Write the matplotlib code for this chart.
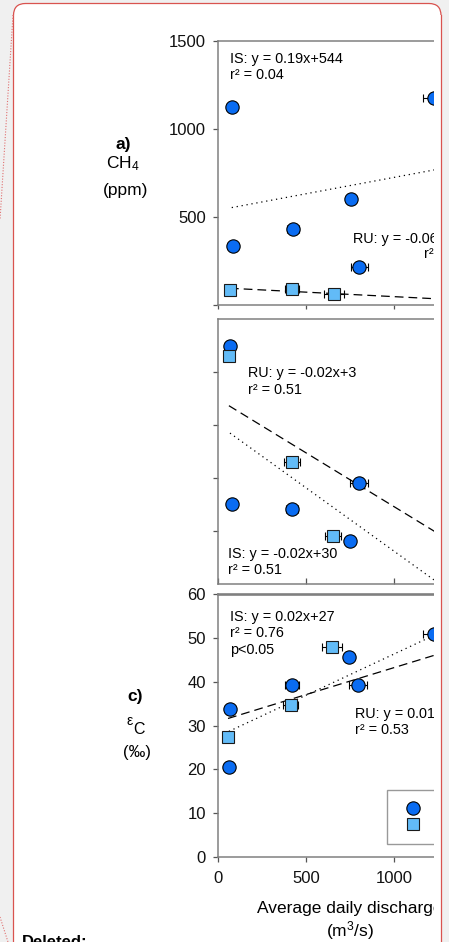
import numpy as np
import matplotlib
matplotlib.use("Agg")
import matplotlib.pyplot as plt
from matplotlib.patches import FancyBboxPatch, Rectangle
from matplotlib.lines import Line2D

plt.rcParams['font.family'] = ['Liberation Sans', 'DejaVu Sans']
plt.rcParams['mathtext.fontset'] = 'custom'
plt.rcParams['mathtext.rm'] = 'Liberation Sans'
plt.rcParams['mathtext.it'] = 'Liberation Sans:italic'

# ---------------- data ----------------
# panel a: CH4 (ppm)
a_is_x = [78, 83, 428, 754, 803, 1225]
a_is_y = [1123, 335, 432, 600, 214, 1174]
a_is_xerr = [0, 0, 35, 0, 50, 60]
a_ru_x = [68, 422, 659]
a_ru_y = [83, 89, 64]
a_ru_xerr = [0, 40, 57]
a_is_fit = [0.186, 539]
a_ru_fit = [-0.051, 98.5]

# panel b
b_is_x = [68, 80, 422, 752, 803]
b_is_y = [45.0, 15.1, 14.1, 8.1, 19.1]
b_is_xerr = [0, 0, 35, 0, 52]
b_ru_x = [62, 419, 652]
b_ru_y = [43.0, 23.0, 9.1]
b_ru_xerr = [0, 45, 45]
b_is_fit = [-0.0239, 30.1]
b_ru_fit = [-0.0203, 34.9]

# panel c: epsilon C (permil)
c_is_x = [68, 62, 419, 746, 797, 1225]
c_is_y = [33.7, 20.5, 39.3, 45.7, 39.2, 50.8]
c_is_xerr = [0, 0, 40, 0, 50, 60]
c_ru_x = [57, 413, 648]
c_ru_y = [27.4, 34.7, 48.0]
c_ru_xerr = [0, 43, 58]
c_is_fit = [0.0188, 27.5]
c_ru_fit = [0.0123, 30.9]

x_ticks = [0, 500, 1000, 1500]
a_yticks = [0, 500, 1000, 1500]
a_yticklabels = ['', '500', '1000', '1500']
b_yticks = [10, 20, 30, 40]
c_yticks = [0, 10, 20, 30, 40, 50, 60]

IS_COLOR = '#0a6cf2'
RU_COLOR = '#62bbf7'
SPINE = '#808080'
W, H = 449, 942

fig = plt.figure(figsize=(W / 100, H / 100), dpi=100)
fig.patch.set_facecolor('#f0f0f0')
inch = fig.dpi_scale_trans

def px2in(x, y):
    return x / 100, (H - y) / 100

# background page with red rounded border
bx, by = px2in(13.5, 1000)
bg = FancyBboxPatch((bx, by), (441 - 13.5) / 100, (1000 - 3.5) / 100,
                    boxstyle='round,pad=0,rounding_size=0.12',
                    transform=inch, facecolor='white', edgecolor='#d9534f',
                    linewidth=0.9, zorder=-10)
fig.add_artist(bg)
# comment connector dotted lines
for (x0, y0, x1, y1) in [(13, 15, 0, 220), (0, 917, 8, 942)]:
    p0 = px2in(x0, y0); p1 = px2in(x1, y1)
    fig.add_artist(Line2D([p0[0], p1[0]], [p0[1], p1[1]], transform=inch,
                          color='#e07070', lw=0.8, linestyle=(0, (1, 1.5)), zorder=-5))


def fx(px):
    return px / W

def fy(py):
    return 1 - py / H

ax_a = fig.add_axes([fx(218), fy(305), 264 / W, 264 / H])
ax_b = fig.add_axes([fx(218), fy(584), 264 / W, 265 / H])
ax_c = fig.add_axes([fx(218), fy(857), 264 / W, 263 / H])

def draw_panel(ax, isx, isy, isxe, rux, ruy, ruxe, isfit, rufit):
    ax.set_facecolor('none')
    isx = np.array(isx, float); isy = np.array(isy, float); isxe = np.array(isxe, float)
    rux = np.array(rux, float); ruy = np.array(ruy, float); ruxe = np.array(ruxe, float)
    xs = np.array([isx.min(), 1300])
    ax.plot(xs, isfit[0] * xs + isfit[1], color='black', lw=0.9,
            linestyle=(0, (1, 3)), zorder=1)
    xr = np.array([rux.min(), 1300])
    ax.plot(xr, rufit[0] * xr + rufit[1], color='black', lw=0.9,
            linestyle=(0, (7, 4)), zorder=1)
    m = isxe > 0
    ax.errorbar(isx[m], isy[m], xerr=isxe[m], fmt='none', ecolor='black',
                elinewidth=0.8, capsize=3, capthick=0.8, zorder=2)
    m = ruxe > 0
    ax.errorbar(rux[m], ruy[m], xerr=ruxe[m], fmt='none', ecolor='black',
                elinewidth=0.8, capsize=3, capthick=0.8, zorder=2)
    ax.plot(isx, isy, linestyle='none', marker='o', markersize=9.6,
            markerfacecolor=IS_COLOR, markeredgecolor='black', markeredgewidth=0.8, zorder=3)
    ax.plot(rux, ruy, linestyle='none', marker='s', markersize=8.4,
            markerfacecolor=RU_COLOR, markeredgecolor='#1a1a1a', markeredgewidth=0.8, zorder=3)
    ax.set_xlim(0, 1500)
    ax.spines['right'].set_visible(False)
    for s in ['left', 'top', 'bottom']:
        ax.spines[s].set_color(SPINE)
        ax.spines[s].set_linewidth(1.1)
    ax.tick_params(axis='both', colors='#555555', labelcolor='#111111',
                   labelsize=12, width=0.9)
    ax.set_xticks(x_ticks)

draw_panel(ax_a, a_is_x, a_is_y, a_is_xerr, a_ru_x, a_ru_y, a_ru_xerr, a_is_fit, a_ru_fit)
draw_panel(ax_b, b_is_x, b_is_y, b_is_xerr, b_ru_x, b_ru_y, b_ru_xerr, b_is_fit, b_ru_fit)
draw_panel(ax_c, c_is_x, c_is_y, c_is_xerr, c_ru_x, c_ru_y, c_ru_xerr, c_is_fit, c_ru_fit)

# panel a axes
ax_a.set_ylim(0, 1500)
ax_a.set_yticks(a_yticks)
ax_a.set_yticklabels(a_yticklabels)
ax_a.tick_params(axis='y', direction='out', length=3.6, pad=5)
ax_a.tick_params(axis='x', direction='out', length=3, labelbottom=False)

# panel b axes
ax_b.set_ylim(0, 50)
ax_b.set_yticks(b_yticks)
ax_b.tick_params(axis='y', direction='out', length=3.6, labelleft=False)
ax_b.tick_params(axis='x', direction='in', length=4, labelbottom=False)

# panel c axes
ax_c.set_ylim(0, 60)
ax_c.set_yticks(c_yticks)
ax_c.spines['top'].set_linewidth(1.9)
ax_c.tick_params(axis='y', direction='out', length=3.6, pad=5)
ax_c.tick_params(axis='x', direction='out', length=3.6, pad=6.8)

# annotations
TS = 10.4
ax_a.text(68, 1398, 'IS: y = 0.19x+544', fontsize=TS, va='center', ha='left')
ax_a.text(68, 1307, 'r² = 0.04', fontsize=TS, va='center', ha='left')
ax_a.text(767, 375, 'RU: y = -0.06x+98', fontsize=TS, va='center', ha='left')
ax_a.text(1170, 290, 'r² = 0.78', fontsize=TS, va='center', ha='left')

ax_b.text(169, 39.8, 'RU: y = -0.02x+3', fontsize=TS, va='center', ha='left')
ax_b.text(169, 36.6, 'r² = 0.51', fontsize=TS, va='center', ha='left')
ax_b.text(57, 5.66, 'IS: y = -0.02x+30', fontsize=TS, va='center', ha='left')
ax_b.text(57, 2.64, 'r² = 0.51', fontsize=TS, va='center', ha='left')

ax_c.text(68, 54.8, 'IS: y = 0.02x+27', fontsize=TS, va='center', ha='left')
ax_c.text(68, 51.1, 'r² = 0.76', fontsize=TS, va='center', ha='left')
ax_c.text(68, 47.2, 'p<0.05', fontsize=TS, va='center', ha='left')
ax_c.text(778, 32.6, 'RU: y = 0.01x+31', fontsize=TS, va='center', ha='left')
ax_c.text(778, 29.0, 'r² = 0.53', fontsize=TS, va='center', ha='left')

# legend (partially hidden at right)
h_is = Line2D([], [], linestyle='none', marker='o', markersize=9.6,
              markerfacecolor=IS_COLOR, markeredgecolor='black', markeredgewidth=0.8)
h_ru = Line2D([], [], linestyle='none', marker='s', markersize=8.4,
              markerfacecolor=RU_COLOR, markeredgecolor='#1a1a1a', markeredgewidth=0.8)
leg = ax_c.legend([h_is, h_ru], ['IS', 'RU'], loc='upper left',
                  bbox_to_anchor=(fx(387), fy(790)), bbox_transform=fig.transFigure,
                  fontsize=TS, frameon=True, fancybox=False, borderpad=0.8,
                  handlelength=2.0, handletextpad=1.0, labelspacing=0.2,
                  borderaxespad=0, numpoints=1)
leg.get_frame().set_edgecolor(SPINE)
leg.get_frame().set_linewidth(1.0)

# left-side labels
def ftext(x, y, s, **kw):
    fig.text(fx(x), fy(y), s, ha='center', va='center', **kw)

ftext(123, 144, 'a)', fontsize=12.5, fontweight='bold')
ftext(123, 164, 'CH$_4$', fontsize=12.5)
ftext(125.5, 190, '(ppm)', fontsize=12.5)
ftext(135.5, 697, 'c)', fontsize=12.5, fontweight='bold')
ftext(130, 721, 'ε', fontsize=10)
ftext(139.5, 729, 'C', fontsize=11.5)
ftext(137.5, 752, '(‰)', fontsize=12)

# x label
ftext(350, 908, 'Average daily discharge', fontsize=12.5)
ftext(350, 931, '(m$^{3}$/s)', fontsize=12.5)

# "Deleted:" comment text
fig.text(0.22, (H - 935) / 100, 'Deleted:', transform=inch, fontsize=12,
         fontweight='bold', ha='left', va='top')

# right-side mask (chart image cut off)
fig.add_artist(Rectangle((4.34, -0.1), 0.065, (H - 15) / 100 + 0.1, transform=inch,
                         facecolor='white', edgecolor='none', zorder=20))
fig.add_artist(Rectangle((4.415, -0.1), 0.1, (H - 15) / 100 + 0.1, transform=inch,
                         facecolor='#f0f0f0', edgecolor='none', zorder=20))
fig.add_artist(Line2D([4.41, 4.41], [-0.1, (H - 15) / 100], transform=inch,
                      color='#d9534f', lw=0.9, zorder=21))

fig.savefig('out.png', dpi=100, facecolor=fig.get_facecolor())
